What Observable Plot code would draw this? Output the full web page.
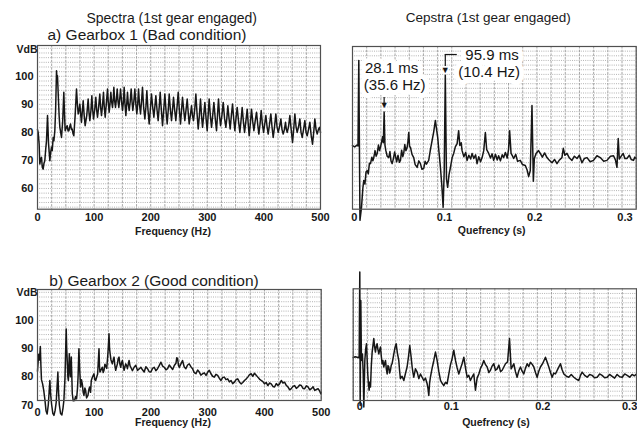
<!DOCTYPE html>
<html><head><meta charset="utf-8">
<script src="https://cdn.jsdelivr.net/npm/d3@7"></script>
<script src="https://cdn.jsdelivr.net/npm/@observablehq/plot@0.6"></script>
<style>
body{margin:0;background:#fff;}
#fig{position:relative;width:637px;height:432px;overflow:hidden;background:#fff;font-family:"Liberation Sans",Arial,Helvetica,sans-serif;color:#1a1a1a;}
.lab{position:absolute;white-space:nowrap;line-height:1;}
</style></head><body><div id="fig"></div>
<script>
// ---------- data ----------
const titles = ["Spectra (1st gear engaged)", "Cepstra (1st gear engaged)"];
const panelTitles = ["a) Gearbox 1 (Bad condition)", "b) Gearbox 2 (Good condition)"];
const yUnit = "VdB";
const xLabelSpec = "Frequency (Hz)";
const xLabelCep = "Quefrency (s)";
const specXTicks = [0, 100, 200, 300, 400, 500];
const specYTicksA = [60, 70, 80, 90, 100];
const specYTicksC = [70, 80, 90, 100];
const cepXTicks = [0, 0.1, 0.2, 0.3];
const annoQ = [0.0281, 0.0959];
const annoMs = ["28.1 ms", "95.9 ms"];
const annoHz = ["(35.6 Hz)", "(10.4 Hz)"];

// Spectrum, gearbox 1: [frequency Hz, level VdB]
const spectrumA = [[0,81],[1.2,80],[2.9,75.8],[4.1,68.7],[5.5,70.5],[7.1,71.1],[8.5,67.5],[10,66.9],[11.5,69],[12.9,69.9],[14.5,74],[15.9,77],[17.7,86],[19.5,76],[21.8,69.9],[23,72.5],[24.7,74.7],[26,73.5],[27.7,78.2],[29,77],[30.6,80.6],[32,88],[33.6,102],[34.5,99],[35.3,100.2],[37.1,91.3],[38.2,86],[39.5,81.8],[41,80],[42.4,78.2],[44.5,84],[46.5,94.3],[47.8,86],[48.9,80.6],[50.5,81.5],[52.4,82.4],[54,80.5],[55.4,80.6],[57,82],[58.3,83],[60,81],[61.3,81.2],[62.8,79.5],[64.2,78.8],[66.5,86],[68.9,95.5],[70.5,90],[71.9,86.6],[73.5,88],[74.8,90.1],[76.5,86],[77.7,83.6],[79,87],[80.7,91.3],[82.5,86],[84.2,82.4],[87,86],[89.5,91.9],[91,87],[92.5,84.2],[94.5,88],[96,93.1],[97.5,88],[99,84.8],[101,88],[103.1,92.5],[104.5,88],[106,85.4],[108,89],[110.1,93.7],[111.5,89],[113.1,86],[115,90],[116.6,94.3],[118,89],[119.6,85.4],[121.5,90],[123.7,95.5],[125,91],[126.6,87.2],[128,90],[129.6,94.3],[131,91],[132.5,88.9],[134,92],[134.9,96.1],[136.5,91],[137.8,88.9],[139.5,92],[140.8,95.5],[142.3,91],[143.7,88.9],[145.3,92],[146.7,95.5],[148.5,91],[150.2,87.8],[151.8,91],[153.1,96.1],[154.6,90],[156.1,86],[157.6,90],[159,94.3],[160.5,90],[162,87.8],[163.8,91],[165.5,95.5],[167,91],[168.4,87.8],[170.2,91],[172,95.5],[173.8,90],[175.5,86.6],[177,90],[178.5,95.5],[180.2,90],[182,86.6],[183.8,91],[185.5,96.1],[187.5,89],[189.7,84.8],[191.5,89],[193.2,94.9],[195.2,88],[197.3,83],[199.3,88],[201.4,93.7],[203.5,89],[205.6,85.4],[207.3,89],[209.1,93.1],[211.2,88],[213.2,84.2],[215,89],[216.8,94.3],[218.8,88],[220.9,82.4],[223,88],[225,93.7],[227,88],[229.1,83],[231,88],[232.7,93.7],[234.8,88],[236.8,84.2],[238.5,88],[240.3,92.5],[242.3,88],[244.4,84.2],[246.5,89],[248.6,94.3],[250.6,88],[252.7,83],[254.5,88],[256.2,92.5],[258.3,88],[260.3,84.2],[262.4,88],[264.5,91.9],[266.3,87],[268,83],[270,86],[272.1,89.5],[273.8,86],[275.6,84.2],[277.7,88],[279.8,93.7],[281.8,87],[283.9,81.2],[286,86],[288,91.9],[289.8,86],[291.6,81.8],[293.6,86],[295.7,90.7],[297.8,85],[299.8,80.6],[301.5,86],[303.3,91.9],[305.4,86],[307.5,81.8],[309.5,86],[311.6,90.7],[314,85],[316.3,80.6],[318,86],[319.8,91.9],[321.6,86],[323.4,82.4],[325.8,86],[328.1,90.7],[330.5,85],[332.8,81.8],[334.5,85],[336.3,89.5],[338.4,85],[340.4,81.2],[342.5,86],[344.6,90.1],[346.6,85],[348.7,80.6],[350.7,85],[352.8,88.9],[355.2,84],[357.5,80],[359.5,84],[361.6,88.9],[363.7,84],[365.8,80],[368.2,84],[370.5,88.3],[372.3,83],[374,78.8],[376,83],[378.1,88.3],[380.2,84],[382.3,80.6],[384.6,84],[387,87.2],[389,83],[391.1,79.4],[393.2,83],[395.2,87.8],[397.3,83],[399.4,80],[401.5,83],[403.5,86],[405.6,82],[407.6,79.4],[410,83],[412.3,86.6],[414.3,82],[416.4,78.2],[418.8,82],[421.1,86.6],[423.2,82],[425.3,80],[427.6,82],[430,84.8],[432,81],[434.1,79.4],[436.2,81],[438.2,83.6],[439.7,81],[441.2,80],[443.5,82],[445.9,86],[448.2,81],[450.6,76.4],[452.6,81],[454.7,86.6],[456.8,82],[458.8,80],[461.2,82],[463.5,84.8],[465.6,80],[467.7,78.2],[470,81],[472.4,84.2],[474.5,80],[476.5,78.8],[478.8,81],[481.2,83.6],[483.5,79],[485.9,75.8],[488,80],[490,84.8],[492.1,81],[494.2,79.4],[496.2,81],[498.3,81.8],[500,80]];

// Spectrum, gearbox 2: [frequency Hz, level VdB]
const spectrumC = [[0,82],[2,88],[3.5,86],[5,90.8],[6,84],[7,79],[9,77.5],[11,75.2],[13,72],[15,68],[17,66.8],[19,70],[21.8,78.7],[23,74],[25,70],[27,67],[29,66.3],[31,68],[33,71],[35.9,81.7],[37,75],[38.5,70],[40.6,67],[43,66.5],[45,69],[46.5,71.6],[48.5,80],[50.6,97],[51.5,90],[52.4,85.8],[53.5,80],[54.4,78.7],[55.3,84],[56.1,88.2],[57,83],[58,80],[59.5,87],[60.5,80],[61.3,74],[63,71.5],[65.4,71.6],[67,73],[68.9,72.2],[70.5,76],[71.5,80],[73,90],[74.5,82],[76,76.4],[77.5,79],[78.9,77.5],[80.5,74.5],[81.9,73.4],[83.5,76],[84.8,75.2],[86.5,72.5],[88.9,73.4],[90.5,75.5],[91.9,76.4],[93.5,74.5],[94.8,78.7],[97,80],[99.5,81.1],[101,79],[102.5,78.7],[104.5,80],[106,81],[107.3,86],[108.4,90],[109.2,84],[110,81.7],[112,82.5],[114.2,83.4],[115.8,81.5],[117.2,82.3],[118.8,84.5],[120,84],[122,83],[124,88],[125.2,92],[126,95.3],[127,90],[128,88.2],[129.5,86],[131.9,84.6],[133.5,86],[134.9,87],[136.4,84],[137.8,82.3],[139.3,83.5],[140.8,84.6],[142.2,86.5],[143.7,87],[145.2,84.5],[146.7,83.4],[148.1,85],[149.6,85.8],[151.1,84],[152.6,82.3],[154,83.5],[155.5,84.6],[157,84],[158.5,82.9],[160,84.5],[161.4,85.8],[163,84],[164.4,83.4],[167.3,82.2],[170.3,83.4],[173.2,84.1],[176.2,82.3],[179.2,82.8],[182.1,83.4],[185,82.5],[188,81.7],[191,83.6],[193.9,82.9],[196.8,81.8],[199.8,81.7],[202.8,83],[205.7,83.4],[208.6,82.2],[211.6,82.9],[214.5,84],[217.5,85.2],[220.5,83.8],[223.4,83.4],[226.4,82.5],[229.3,82.9],[232.2,84.2],[235.2,83.4],[238.2,82.6],[241.1,84],[244,84.8],[245.5,86.8],[247,86.4],[248.5,84],[250,83.4],[252.8,84.6],[255.6,85.8],[258.6,83.5],[261.5,82.9],[264.5,84.2],[267.4,84.6],[270.3,83.6],[273.3,82.9],[276.2,81.5],[279.2,81.1],[282.2,82.4],[285.1,81.7],[288,80.6],[291,81.1],[294,81.4],[297,80.5],[299.9,81.6],[302.8,82.3],[305.7,81.1],[308.6,80.2],[311.6,79.9],[314.5,80.9],[317.5,80.5],[320.4,79.5],[323.4,78.7],[326.4,79.8],[329.3,79.9],[332.2,79],[335.2,79.3],[338.2,78.2],[341.1,78.7],[344,77.6],[347,78.1],[350,79],[352.9,79.3],[355.8,78.2],[358.8,77.5],[361.8,78],[364.7,78.7],[367.6,79.2],[370.6,79.9],[373.6,80.8],[376.5,81.1],[379.4,80.2],[382.4,81.3],[385.4,80.6],[388.3,79.9],[391.2,79.2],[394.2,78.7],[397.2,78.3],[400.1,77.5],[403,78],[406,76.9],[409,77.8],[411.9,77.5],[414.8,76.6],[417.8,76.4],[420.8,77.6],[423.7,76.9],[426.6,77.5],[429.6,78.7],[432.6,77.8],[435.5,78.1],[438.4,77],[441.4,76.4],[444.4,75.4],[447.3,75.8],[450.2,76.6],[453.2,76.9],[456.2,75.9],[459.1,76.4],[462,77.1],[465,76.9],[468,75.9],[470.9,75.8],[473.8,76.8],[476.8,76.4],[479.8,75.4],[482.7,75.8],[485.6,76.5],[488.6,75.2],[491.6,75.5],[494.5,75.8],[497.4,74.9],[499.3,74],[500,74.5]];

// Cepstrum, gearbox 1: [quefrency s, amplitude in grid divisions]
const cepstrumB = [[-0.0070,13.7],[-0.0045,13.4],[-0.0020,13.8],[-0.0009,13.6],[0,32.0],[0.0013,-2.4],[0.0030,0.4],[0.0045,4.5],[0.0055,6.2],[0.0068,5.4],[0.0080,8.0],[0.0093,8.3],[0.0105,7.6],[0.0118,9.9],[0.0130,9.8],[0.0145,11.2],[0.0156,10.4],[0.0166,11.1],[0.0180,12.6],[0.0192,11.4],[0.0204,12.0],[0.0218,13.8],[0.0230,12.6],[0.0240,13.3],[0.0252,14.4],[0.0264,15.6],[0.0272,14.3],[0.0281,20.9],[0.0290,13.8],[0.0300,12.6],[0.0315,11.4],[0.0332,11.1],[0.0345,12.4],[0.0357,10.4],[0.0370,9.8],[0.0385,11.0],[0.0397,12.3],[0.0406,11.5],[0.0420,10.2],[0.0435,11.6],[0.0450,10.1],[0.0462,10.5],[0.0475,12.7],[0.0488,11.3],[0.0498,12.0],[0.0510,13.9],[0.0522,12.6],[0.0536,13.3],[0.0545,14.6],[0.0554,16.5],[0.0563,13.5],[0.0573,13.3],[0.0590,11.8],[0.0609,11.1],[0.0625,9.6],[0.0647,9.0],[0.0665,10.4],[0.0683,9.8],[0.0700,8.6],[0.0720,8.8],[0.0735,10.3],[0.0750,9.7],[0.0775,10.5],[0.0795,12.9],[0.0813,14.8],[0.0830,16.6],[0.0849,19.1],[0.0862,17.2],[0.0875,15.4],[0.0890,12.1],[0.0905,9.0],[0.0920,5.2],[0.0935,0.4],[0.0947,8.3],[0.0959,28.8],[0.0972,6.5],[0.0985,4.7],[0.1000,7.4],[0.1016,9.0],[0.1035,11.1],[0.1052,12.0],[0.1070,13.4],[0.1090,14.1],[0.1107,16.9],[0.1120,13.7],[0.1135,14.3],[0.1145,12.6],[0.1165,11.3],[0.1185,12.2],[0.1200,10.5],[0.1220,11.6],[0.1240,10.8],[0.1256,12.0],[0.1275,10.9],[0.1295,11.7],[0.1311,9.8],[0.1330,11.3],[0.1350,10.2],[0.1367,11.1],[0.1385,12.6],[0.1403,16.5],[0.1418,12.8],[0.1440,12.0],[0.1460,11.0],[0.1478,11.9],[0.1495,10.5],[0.1515,11.8],[0.1535,10.6],[0.1550,11.5],[0.1570,10.4],[0.1590,11.7],[0.1606,11.1],[0.1625,12.2],[0.1645,11.0],[0.1660,12.8],[0.1672,16.9],[0.1688,12.0],[0.1705,11.4],[0.1717,10.9],[0.1740,11.8],[0.1760,10.3],[0.1790,10.5],[0.1815,9.6],[0.1846,9.4],[0.1865,8.5],[0.1883,7.0],[0.1901,8.3],[0.1920,22.3],[0.1935,6.0],[0.1946,10.9],[0.1965,12.0],[0.1993,12.6],[0.2012,12.0],[0.2035,11.2],[0.2060,12.1],[0.2086,11.1],[0.2110,10.6],[0.2142,10.0],[0.2170,10.7],[0.2197,9.8],[0.2225,10.6],[0.2252,11.1],[0.2267,13.1],[0.2285,11.6],[0.2308,12.0],[0.2335,11.0],[0.2363,10.5],[0.2390,11.4],[0.2419,10.9],[0.2445,11.6],[0.2474,10.0],[0.2500,10.9],[0.2530,11.1],[0.2565,10.2],[0.2602,10.5],[0.2640,11.5],[0.2677,11.1],[0.2715,10.3],[0.2751,10.5],[0.2790,11.4],[0.2824,11.5],[0.2845,10.6],[0.2862,9.0],[0.2876,15.2],[0.2888,10.8],[0.2898,11.1],[0.2931,12.0],[0.2950,10.9],[0.2972,10.9],[0.3000,11.6],[0.3020,10.7],[0.3045,10.5],[0.3060,11.2],[0.3075,10.9]];

// Cepstrum, gearbox 2: [quefrency s, amplitude in grid divisions]
const cepstrumD = [[-0.0072,9.2],[-0.0050,9.4],[-0.0029,9.3],[-0.0007,9.2],[0,27.6],[0.0004,-1.1],[0.0011,21.5],[0.0018,8.6],[0.0029,10.0],[0.0037,6.0],[0.0044,-1.4],[0.0055,8.6],[0.0064,11.0],[0.0073,12.2],[0.0080,9.0],[0.0087,5.7],[0.0095,3.5],[0.0102,2.2],[0.0110,4.0],[0.0117,2.9],[0.0126,7.5],[0.0135,10.4],[0.0145,12.0],[0.0153,13.3],[0.0162,11.5],[0.0171,10.4],[0.0180,11.6],[0.0189,12.2],[0.0198,11.0],[0.0208,10.0],[0.0217,10.9],[0.0226,11.5],[0.0235,9.5],[0.0244,7.9],[0.0253,8.6],[0.0262,7.2],[0.0272,8.0],[0.0281,8.6],[0.0290,6.8],[0.0299,5.7],[0.0308,7.5],[0.0317,7.2],[0.0326,5.9],[0.0335,6.5],[0.0344,7.6],[0.0353,7.9],[0.0362,8.9],[0.0372,10.0],[0.0385,11.4],[0.0397,12.2],[0.0410,10.3],[0.0426,8.6],[0.0435,6.4],[0.0444,4.7],[0.0462,5.2],[0.0481,4.3],[0.0499,5.8],[0.0517,7.2],[0.0532,9.4],[0.0546,11.8],[0.0560,9.5],[0.0572,7.2],[0.0581,6.0],[0.0590,5.0],[0.0608,6.8],[0.0627,6.1],[0.0645,4.7],[0.0663,5.7],[0.0681,5.0],[0.0699,4.3],[0.0718,4.8],[0.0736,3.6],[0.0745,2.6],[0.0754,1.1],[0.0763,3.8],[0.0772,5.0],[0.0790,6.9],[0.0809,8.6],[0.0827,10.4],[0.0845,8.6],[0.0863,6.3],[0.0882,4.3],[0.0900,3.7],[0.0918,3.2],[0.0936,3.9],[0.0954,3.6],[0.0973,5.7],[0.0990,7.6],[0.1009,9.0],[0.1027,10.8],[0.1046,8.6],[0.1064,7.0],[0.1082,5.7],[0.1100,6.8],[0.1118,7.9],[0.1137,9.3],[0.1155,7.0],[0.1173,5.0],[0.1191,5.4],[0.1209,4.3],[0.1228,5.1],[0.1246,5.7],[0.1264,2.2],[0.1282,4.8],[0.1301,5.7],[0.1319,6.9],[0.1337,7.6],[0.1355,8.6],[0.1374,7.7],[0.1392,7.2],[0.1410,6.0],[0.1428,6.5],[0.1446,7.4],[0.1464,7.9],[0.1483,6.5],[0.1501,6.8],[0.1520,7.6],[0.1538,6.2],[0.1556,6.5],[0.1574,7.2],[0.1592,7.9],[0.1615,8.3],[0.1636,13.3],[0.1654,6.8],[0.1670,7.4],[0.1683,7.9],[0.1701,6.2],[0.1719,5.0],[0.1738,6.4],[0.1756,7.2],[0.1774,6.3],[0.1792,5.7],[0.1810,6.9],[0.1829,7.9],[0.1847,7.3],[0.1865,8.2],[0.1883,7.8],[0.1902,7.2],[0.1920,6.0],[0.1938,5.0],[0.1956,6.3],[0.1974,7.2],[0.2000,8.0],[0.2029,9.3],[0.2048,8.2],[0.2066,7.2],[0.2084,6.0],[0.2102,5.0],[0.2120,5.9],[0.2138,5.7],[0.2165,6.8],[0.2193,7.9],[0.2211,6.6],[0.2230,5.7],[0.2257,5.2],[0.2284,5.0],[0.2311,5.6],[0.2339,5.0],[0.2366,4.6],[0.2393,4.3],[0.2412,5.4],[0.2430,6.1],[0.2457,5.4],[0.2485,5.0],[0.2512,5.6],[0.2539,5.4],[0.2566,4.9],[0.2594,5.0],[0.2621,5.7],[0.2648,5.4],[0.2676,4.9],[0.2703,5.0],[0.2730,5.6],[0.2758,5.2],[0.2785,4.8],[0.2812,5.6],[0.2840,5.1],[0.2867,5.0],[0.2895,5.7],[0.2922,5.4],[0.2950,5.0],[0.2976,5.6],[0.3000,5.3],[0.3024,5.7]];

// ---------- drawing ----------
const FONT = '"Liberation Sans", Arial, Helvetica, sans-serif';
const INK = "#161616";
const fig = document.getElementById("fig");

const xDomA = [0, 500], yDomA = [52.6, 111];
const xDomC = [0, 500], yDomC = [71.6, 111];
const xDomB = [-0.00698, 0.30753], yDomB = [0, 35];
const xDomD = [-0.00721, 0.30240], yDomD = [0, 24];

const split = (dom, n) => d3.range(n + 1).map(i => dom[0] + i * (dom[1] - dom[0]) / n);
const specGridX = d3.range(0, 501, 25);
const specGridY = (lo, hi) => d3.range(lo, hi + 1).map(i => 60 + i * 10 / 6);
const fmtCep = d => d === 0 ? "0" : d.toFixed(1);

function panel(cfg) {
  const xt = cfg.xTicks;
  const lastEnd = cfg.lastTickEnd;
  const marks = [
    Plot.ruleX(cfg.xGrid, {stroke: "#8a8a8a", strokeWidth: 0.75, strokeDasharray: "2.5,1.2"}),
    Plot.ruleY(cfg.yGrid, {stroke: "#9a9a9a", strokeWidth: 0.75, strokeDasharray: "1,1.2"}),
    ...(cfg.under || []),
    Plot.line(cfg.series, {x: d => d[0], y: d => d[1], stroke: INK, strokeWidth: 1.5}),
    Plot.frame({stroke: "#505050", strokeWidth: 1.2}),
    Plot.text(lastEnd ? xt.slice(0, -1) : xt, {x: d => d, frameAnchor: "bottom", dy: cfg.xDy, dx: cfg.xDx || 0, text: cfg.xFmt || (d => String(d)), lineAnchor: "middle", fill: INK})
  ];
  if (lastEnd) marks.push(Plot.text(xt.slice(-1), {x: d => d, frameAnchor: "bottom", dy: cfg.xDy, dx: 3, textAnchor: "end", text: cfg.xFmt || (d => String(d)), lineAnchor: "middle", fill: INK}));
  if (cfg.yTicks) marks.push(Plot.text(cfg.yTicks, {y: d => d, frameAnchor: "left", dx: -4, textAnchor: "end", lineAnchor: "middle", text: d => String(d), fill: INK}));
  marks.push(...(cfg.extra || []));
  const svg = Plot.plot({
    width: cfg.width, height: cfg.height,
    marginTop: cfg.mt, marginRight: cfg.mr, marginBottom: cfg.mb, marginLeft: cfg.ml,
    x: {domain: cfg.xDomain, axis: null},
    y: {domain: cfg.yDomain, axis: null},
    style: {fontFamily: FONT, fontSize: "11px", fontWeight: "bold", color: INK, background: "transparent", overflow: "visible"},
    marks
  });
  svg.style.position = "absolute";
  svg.style.left = cfg.left + "px";
  svg.style.top = cfg.top + "px";
  fig.appendChild(svg);
}

// a) spectrum gearbox 1
panel({left: 0, top: 40, width: 330, height: 190, mt: 5, mr: 10, mb: 21.3, ml: 37,
  xDomain: xDomA, yDomain: yDomA, series: spectrumA,
  xGrid: specGridX, yGrid: specGridY(-4, 30), xTicks: specXTicks, yTicks: specYTicksA, xDy: 8.3});

// b) spectrum gearbox 2
panel({left: 0, top: 284, width: 330, height: 140, mt: 5, mr: 9.3, mb: 24, ml: 37,
  xDomain: xDomC, yDomain: yDomC, series: spectrumC,
  xGrid: specGridX, yGrid: specGridY(7, 30), xTicks: specXTicks, yTicks: specYTicksC, xDy: 11.5});

// cepstrum gearbox 1 with annotations
const peakNear = (series, q) => series.reduce((b, p) => Math.abs(p[0] - q) < Math.abs(b[0] - q) ? p : b)[1];
const anno = annoQ.map((q, i) => ({q, ms: annoMs[i], hz: annoHz[i], peak: peakNear(cepstrumB, q)}));
const kB = (yDomB[1] - yDomB[0]) / 162.7;          // grid units per pixel
const sB = 284 / (xDomB[1] - xDomB[0]);             // pixels per second
const a0 = [anno[0]], a1 = [anno[1]];
const tOpt = {x: "q", y: "peak", lineAnchor: "middle", fontSize: 15, fontWeight: "normal"};
const halo = {stroke: "white", strokeWidth: 10, fill: "white", strokeLinejoin: "round"};
const annoTexts = [
  [a0, "ms", "middle", 7.5, -43.5],
  [a0, "hz", "middle", 10.5, -26.5],
  [a1, "ms", "start", 20, -19.8],
  [a1, "hz", "start", 13, -2.8]
];
panel({left: 340, top: 40, width: 297, height: 190, mt: 6, mr: 1.3, mb: 21.3, ml: 12,
  xDomain: xDomB, yDomain: yDomB, series: cepstrumB,
  xGrid: split(xDomB, 20), yGrid: d3.range(1, 35), xTicks: cepXTicks, xFmt: fmtCep, xDy: 8, xDx: -4.5,
  under: annoTexts.map(([d, t, a, dx, dy]) => Plot.text(d, {...tOpt, ...halo, text: t, textAnchor: a, dx, dy})),
  extra: [
    ...annoTexts.map(([d, t, a, dx, dy]) => Plot.text(d, {...tOpt, fill: INK, text: t, textAnchor: a, dx, dy})),
    Plot.ruleX(a0, {x: "q", y1: d => d.peak + 8.5 * kB, y2: d => d.peak + 14.5 * kB, stroke: INK, strokeWidth: 1.2}),
    Plot.text(a0, {x: "q", y: "peak", text: () => "\u25BC", dy: -6.5, fontSize: 9, lineAnchor: "middle", fill: INK}),
    Plot.ruleX(a1, {x: "q", y1: d => d.peak + 8.8 * kB, y2: d => d.peak + 20.8 * kB, stroke: INK, strokeWidth: 1.2}),
    Plot.ruleY(a1, {y: d => d.peak + 20.8 * kB, x1: "q", x2: d => d.q + 12 / sB, stroke: INK, strokeWidth: 1.2}),
    Plot.text(a1, {x: "q", y: "peak", text: () => "\u25BC", dy: -5.3, fontSize: 9, lineAnchor: "middle", fill: INK})
  ]});

// cepstrum gearbox 2
panel({left: 340, top: 260, width: 297, height: 164, mt: 28.3, mr: 1, mb: 24, ml: 12.7,
  xDomain: xDomD, yDomain: yDomD, series: cepstrumD,
  xGrid: split(xDomD, 20), yGrid: d3.range(1, 24), xTicks: cepXTicks, xFmt: fmtCep, xDy: 5.5, xDx: 0, lastTickEnd: true});

// ---------- html text ----------
function label(text, x, cy, fs, weight, anchor) {
  const d = document.createElement("div");
  d.className = "lab";
  d.textContent = text;
  d.style.fontSize = fs + "px";
  d.style.fontWeight = weight;
  d.style.top = (cy - 0.49 * fs) + "px";
  d.style.left = x + "px";
  d.style.transform = "translateX(" + (anchor === "middle" ? "-50%" : anchor === "end" ? "-100%" : "0") + ")";
  fig.appendChild(d);
}
label(titles[0], 171.7, 18, 14, "normal", "middle");
label(titles[1], 488.3, 18, 13.5, "normal", "middle");
label(panelTitles[0], 147, 35, 15.5, "normal", "middle");
label(panelTitles[1], 154, 280.5, 15.5, "normal", "middle");
label(yUnit, 37.5, 48.8, 10.5, "bold", "end");
label(yUnit, 37.5, 291.7, 10.5, "bold", "end");
label(xLabelSpec, 173, 231, 10.5, "bold", "middle");
label(xLabelSpec, 173, 422.5, 10.5, "bold", "middle");
label(xLabelCep, 491.7, 230.5, 10.5, "bold", "middle");
label(xLabelCep, 496, 422.5, 10.5, "bold", "middle");
</script></body></html>
